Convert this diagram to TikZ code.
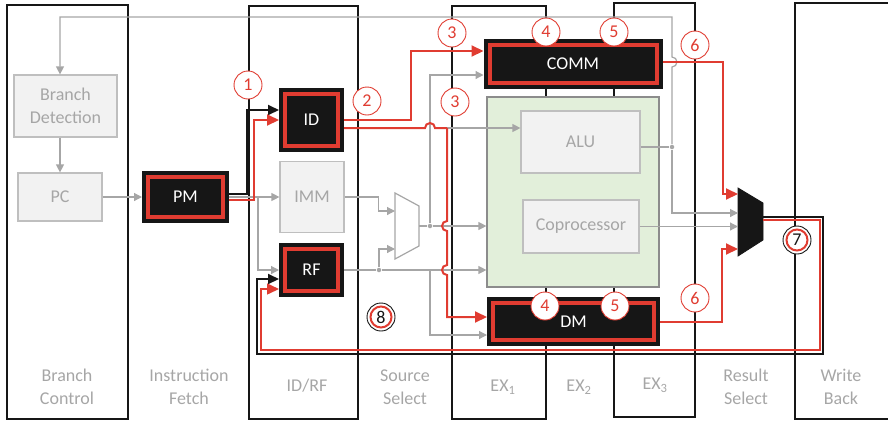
\documentclass[tikz,border=0pt]{standalone}
\usepackage{fontspec}
\setmainfont{Carlito}
\usetikzlibrary{arrows.meta, calc, positioning, backgrounds}
\definecolor{cred}{HTML}{E03C31}
\definecolor{cblk}{HTML}{161616}
\definecolor{cline}{HTML}{A6A6A6}
\definecolor{cboxln}{HTML}{BFBFBF}
\definecolor{cboxfill}{HTML}{F2F2F2}
\definecolor{ctext}{HTML}{A6A6A6}
\definecolor{cgreen}{HTML}{E2EFDA}
\definecolor{cgreenln}{HTML}{8C8C8C}
\tikzset{
  every picture/.style={font=\fontsize{18}{23}\selectfont, line width=1.2pt},
  stage/.style={draw=cblk, line width=2pt},
  stagelabel/.style={text=ctext, align=center},
  idle/.style={draw=cboxln, fill=cboxfill, text=ctext, align=center, line width=1.2pt, inner sep=0pt},
  hot/.style={draw=cred, fill=cblk, line width=4pt, preaction={draw=cblk, line width=12pt}, outer sep=6pt, text=white, inner sep=0pt},
  muxbox/.style={rectangle, inner sep=0pt, outer sep=0pt},
  gline/.style={draw=cline, line width=1.2pt},
  garrow/.style={gline, -{Triangle[length=8pt, width=8pt]}},
  rline/.style={draw=cred, line width=2pt},
  rarrow/.style={rline, -{Triangle[length=12pt, width=11pt]}},
  barrow/.style={draw=cblk, line width=2pt, -{Triangle[length=11pt, width=10pt]}},
  dot/.style={circle, fill=cline, inner sep=0pt, minimum size=4.5pt},
  badge/.style={circle, draw=cred, fill=white, text=cred, line width=0.9pt, minimum size=28pt, inner sep=0pt},
  ring/.style={circle, draw=cblk, fill=white, text=cblk, line width=0.9pt, minimum size=28pt, inner sep=0pt,
    path picture={\draw[cred, line width=2pt] (path picture bounding box.center) circle (10.5pt);}},
}
\begin{document}
\begin{tikzpicture}[x=1pt, y=-1pt]
  \useasboundingbox (0,0) rectangle (888,421);

  % blocks
  \node[idle, minimum width=103pt, minimum height=62pt] (bd) at (65.5,106) {Branch\\Detection};
  \node[idle, minimum width=84pt, minimum height=48pt] (pc) at (60,197) {PC};
  \node[hot, minimum width=75pt, minimum height=40pt] (pm) at (185.5,197) {PM};
  \node[hot, minimum width=53pt, minimum height=52pt] (id) at (311.5,120) {ID};
  \node[idle, minimum width=64pt, minimum height=71pt] (imm) at (312,197) {IMM};
  \node[hot, minimum width=53pt, minimum height=42pt] (rf) at (311.5,270) {RF};
  \node[muxbox, minimum width=24pt, minimum height=66pt] (smux) at (407,226) {};
  \draw[draw=cline, fill=white] (smux.north west) -- (smux.south west) -- ($(smux.south east)+(0,-13)$) -- ($(smux.north east)+(0,13)$) -- cycle;
  \node[idle, draw=cgreenln, fill=cgreen, minimum width=172pt, minimum height=190pt] (exu) at (573,192) {};
  \node[idle, minimum width=119pt, minimum height=62pt] (alu) at (580.5,142) {ALU};
  \node[idle, minimum width=116pt, minimum height=53pt] (copro) at (581,226.5) {Coprocessor};
  \node[hot, minimum width=167pt, minimum height=38pt] (comm) at (573,64) {COMM};
  \node[hot, minimum width=161pt, minimum height=37pt] (dm) at (573.5,321.5) {DM};
  \node[muxbox, minimum width=25pt, minimum height=68pt] (rmux) at (750.5,222) {};
  \draw[fill=cblk, draw=cblk, line width=0.8pt] (rmux.north west) -- (rmux.south west) -- ($(rmux.south east)+(0,-16)$) -- ($(rmux.north east)+(0,15)$) -- cycle;

  \node[dot] (sdot) at (430,226) {};
  \node[dot] (rdot) at (379,270) {};
  \node[dot] (adot) at (672,147) {};
  \coordinate (rfork) at (430,270);
  \coordinate (idfork) at (447,128);
  \coordinate (pmfork) at (258,197);

  % stages
  \begin{scope}[on background layer]
    \draw[stage] (7,5) rectangle (128,419);
    \draw[stage] (249,6) rectangle (358,419);
    \draw[stage] (452,6) rectangle (546,419);
    \draw[stage] (614,3) rectangle (695,417);
    \draw[stage] (795,3) rectangle (900,419);
  \end{scope}
  \foreach \n/\x/\y/\lab in {lbc/67/387/Branch\\Control, lif/189/387/Instruction\\Fetch, lid/307/386/{ID/RF},
    lss/405/387/Source\\Select, lex1/503/387/EX\textsubscript{1}, lex2/579/387/EX\textsubscript{2},
    lex3/655/385/EX\textsubscript{3}, lrs/746/387/Result\\Select, lwb/841/387/Write\\Back}
    \node[stagelabel] (\n) at (\x,\y) {\lab};

  % inactive paths
  \draw[garrow] (bd.south -| pc.north) -- (pc.north);
  \draw[garrow] (pc) -- (pm);
  \draw[garrow] (pm) -- (imm);
  \draw[garrow] (pmfork) |- (rf.west);
  \draw[garrow] (imm.east) -- ++(34,0) |- ($(smux.west)+(0,-15)$);
  \draw[gline] (rf.east) -- (rdot);
  \draw[garrow] (rdot) -- (rdot -| exu.west);
  \draw[garrow] (rdot) |- ($(smux.west)+(0,23)$);
  \draw[gline] (smux.east) -- (sdot);
  \draw[garrow] (sdot) -- (sdot -| exu.west);
  \draw[garrow] (sdot) |- ($(comm.west)+(0,11)$);
  \draw[garrow] (rfork) |- ($(dm.west)+(0,13.5)$);
  \draw[garrow] (idfork) -- (idfork -| alu.west);
  \draw[gline] ($(alu.east)+(0,5)$) -- (adot);
  \draw[garrow] (adot) -- ++(0,-80) arc[start angle=90, end angle=-90, radius=5] -- ++(0,-40) -| (bd.north -| pc.north);
  \draw[garrow] (adot) |- ($(rmux.west)+(0,-9)$);
  \draw[garrow] (copro.east) -- (copro.east -| rmux.west);

  % active paths
  \draw[barrow] ($(pm.east)+(0,-3)$) -- ++(18,0) |- ($(id.west)+(0,-10)$);
  \draw[rarrow] ($(pm.east)+(0,3)$) -- ++(25,0) |- (id.west);
  \draw[rarrow] (id.east) -- ++(67,0) |- ($(comm.west)+(0,-13)$);
  \draw[rline] ($(id.east)+(0,8)$) -- ++(81,0) arc[start angle=180, end angle=360, radius=5] -- (idfork);
  \draw[rarrow] (idfork) -- ++(0,93) arc[start angle=270, end angle=90, radius=5] -- ++(0,34)
    arc[start angle=270, end angle=90, radius=5] |- ($(dm.west)+(0,-4.5)$);
  \draw[rarrow] ($(comm.east)+(0,-2)$) -- ++(60,0) |- ($(rmux.west)+(0,-28)$);
  \draw[rarrow] (dm.east) -- ++(62,0) |- ($(rmux.west)+(0,27)$);
  % write back loop
  \draw[barrow] ($(rmux.east)+(0,-5)$) -- ++(60,0) -- ++(0,137) -| ($(rf.west)+(-22,9)$) -- ($(rf.west)+(0,9)$);
  \draw[rarrow, line width=1.5pt] ($(rmux.east)+(0,-2)$) -- ++(57,0) -- ++(0,130) -| ($(rf.west)+(-18,19)$) -- ($(rf.west)+(0,19)$);

  % steps
  \foreach \n/\x/\y/\lab in {b1/248/85/1, b2/367/101/2, b3a/452/33/3, b3b/455/102/3, b4a/546/32/4, b5a/614/32/5,
    b4b/545/306/4, b5b/615/306/5, b6a/695/45/6, b6b/695/298/6}
    \node[badge] (\n) at (\x,\y) {\lab};
  \node[ring] (b7) at (797,240) {7};
  \node[ring] (b8) at (381,317) {8};
\end{tikzpicture}
\end{document}
